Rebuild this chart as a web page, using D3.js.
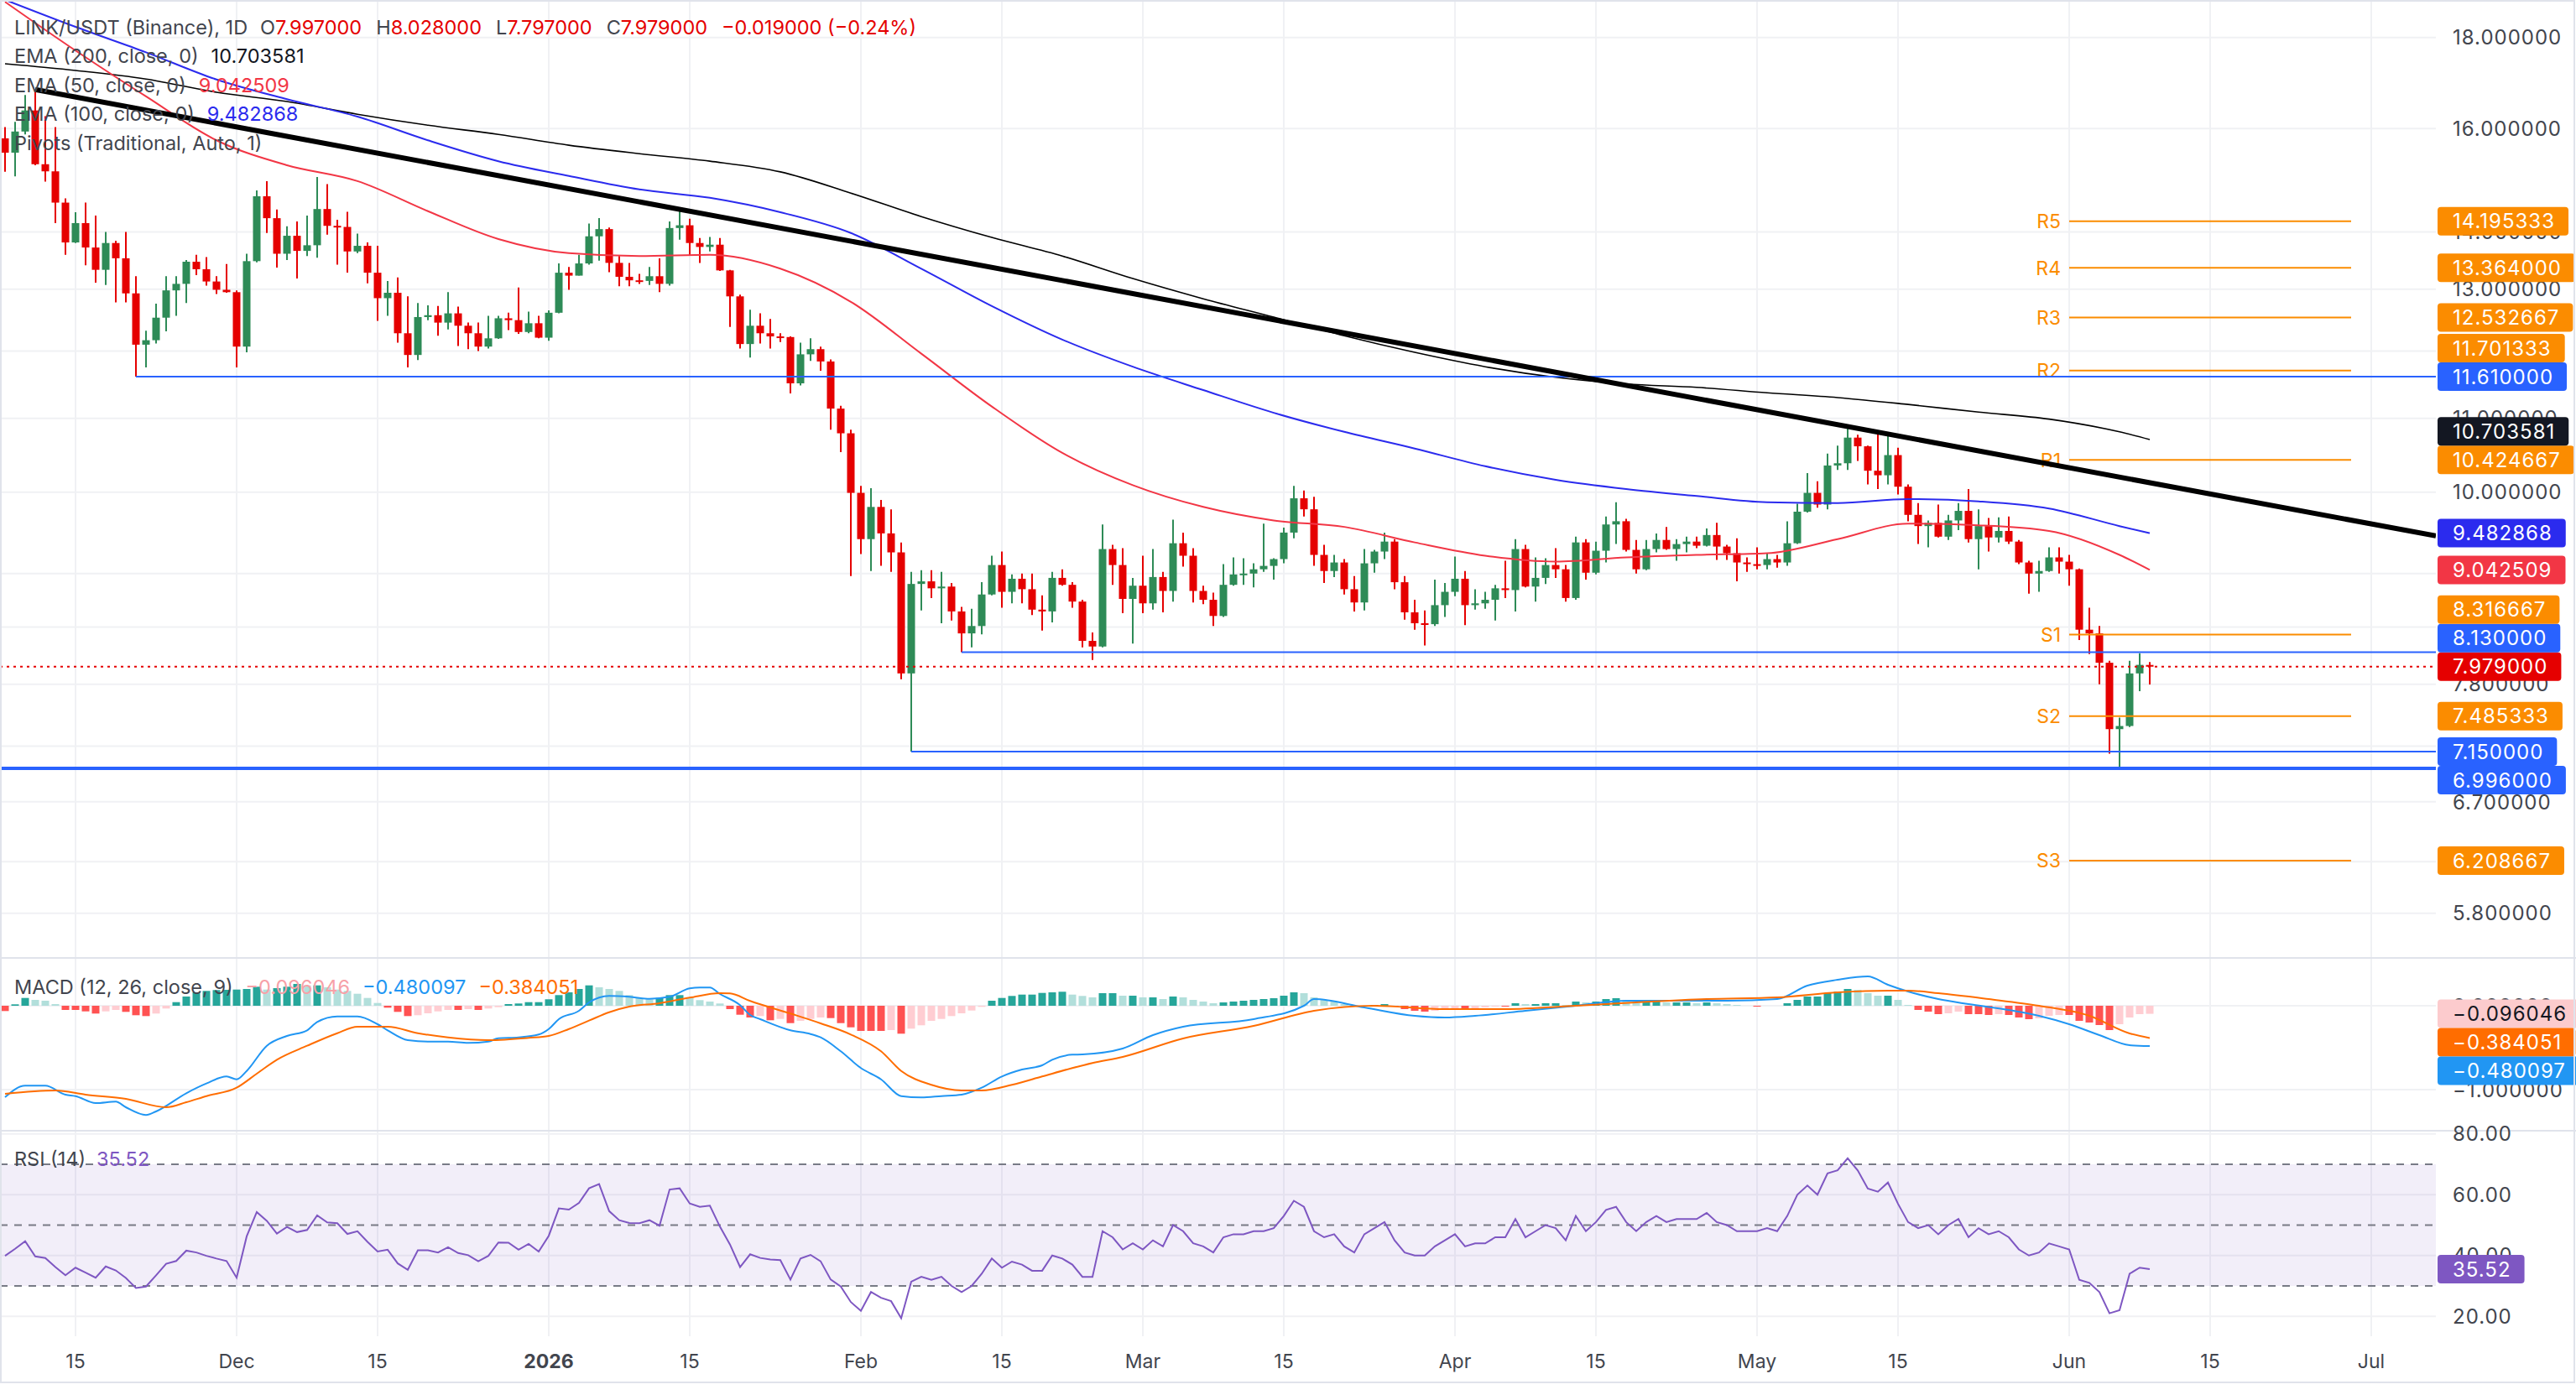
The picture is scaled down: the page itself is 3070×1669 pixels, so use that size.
<!DOCTYPE html>
<html>
<head>
<meta charset="utf-8">
<script src="https://cdn.jsdelivr.net/npm/d3@7"></script>
<style>
  body { margin: 0; background: #fff; }
  text { font-family: Inter, "Liberation Sans", sans-serif; }
</style>
</head>
<body>
<script>
// daily candles, LINK/USDT, from 2025-11-08
const opens = [
  15.80, 15.51, 15.94, 16.38, 15.28, 15.14, 14.54, 13.81, 14.16, 13.72,
  13.33, 13.80, 13.53, 12.93, 12.10, 12.17, 12.53, 12.98, 13.09, 13.47,
  13.34, 13.13, 12.99, 12.95, 12.07, 13.48, 14.66, 14.25, 13.61, 13.93,
  13.66, 13.76, 14.42, 14.11, 14.09, 13.65, 13.75, 13.28, 12.85, 12.94,
  12.28, 11.94, 12.54, 12.57, 12.45, 12.60, 12.40, 12.28, 12.07, 12.20,
  12.52, 12.49, 12.30, 12.44, 12.21, 12.61, 13.28, 13.23, 13.44, 13.92,
  14.05, 13.45, 13.21, 13.15, 13.14, 13.22, 13.09, 14.07, 14.12, 13.80,
  13.73, 13.77, 13.32, 12.88, 12.11, 12.40, 12.28, 12.23, 12.22, 11.51,
  11.95, 12.03, 11.84, 11.14, 10.79, 9.99, 9.41, 9.81, 9.48, 9.25,
  7.91, 8.88, 8.91, 8.83, 8.85, 8.57, 8.33, 8.41, 8.76, 9.10,
  8.79, 8.94, 8.82, 8.59, 8.57, 8.95, 8.87, 8.68, 8.25, 8.19,
  9.29, 9.10, 8.71, 8.86, 8.66, 8.96, 8.80, 9.36, 9.21, 8.80,
  8.70, 8.52, 8.87, 8.99, 9.00, 9.05, 9.09, 9.17, 9.49, 9.92,
  9.78, 9.22, 9.03, 9.13, 8.82, 8.67, 9.12, 9.26, 9.38, 8.90,
  8.56, 8.44, 8.43, 8.64, 8.79, 8.94, 8.64, 8.66, 8.70, 8.83,
  8.81, 9.29, 8.85, 8.95, 9.10, 9.05, 8.72, 9.37, 9.01, 9.27,
  9.59, 9.63, 9.28, 9.05, 9.29, 9.40, 9.29, 9.35, 9.38, 9.33,
  9.46, 9.32, 9.24, 9.13, 9.11, 9.10, 9.17, 9.13, 9.36, 9.75,
  9.99, 9.84, 10.35, 10.38, 10.73, 10.61, 10.28, 10.22, 10.49, 10.07,
  9.71, 9.57, 9.61, 9.44, 9.64, 9.76, 9.41, 9.57, 9.43, 9.51,
  9.38, 9.13, 9.00, 9.03, 9.19, 9.14, 9.05, 8.37, 8.33, 8.02,
  7.36, 7.39, 7.91, 7.997
]
const highs = [
  16.03, 16.14, 16.71, 16.83, 16.26, 16.03, 14.62, 14.36, 14.54, 14.30,
  14.00, 13.84, 14.00, 13.22, 12.32, 12.76, 13.22, 13.22, 13.50, 13.59,
  13.55, 13.22, 13.43, 12.98, 13.61, 14.77, 14.95, 14.41, 14.10, 14.19,
  14.30, 15.03, 14.89, 14.22, 14.37, 13.97, 13.81, 13.75, 13.14, 13.20,
  12.88, 12.77, 12.73, 12.72, 12.95, 12.71, 12.45, 12.45, 12.56, 12.56,
  12.61, 13.03, 12.63, 12.56, 12.65, 13.44, 13.38, 13.59, 14.15, 14.25,
  14.08, 13.57, 13.45, 13.26, 13.38, 13.53, 14.19, 14.41, 14.24, 13.89,
  13.91, 13.89, 13.33, 12.91, 12.66, 12.60, 12.51, 12.28, 12.23, 12.13,
  12.20, 12.07, 11.87, 11.18, 10.84, 10.08, 10.05, 9.90, 9.78, 9.37,
  9.02, 9.04, 9.04, 9.02, 8.89, 8.62, 8.60, 8.90, 9.21, 9.26,
  8.99, 9.00, 9.00, 8.75, 9.02, 9.05, 8.90, 8.70, 8.34, 9.59,
  9.34, 9.30, 8.95, 9.21, 9.29, 9.02, 9.65, 9.49, 9.30, 8.86,
  8.78, 9.11, 9.19, 9.18, 9.12, 9.60, 9.18, 9.55, 10.08, 10.02,
  9.94, 9.34, 9.22, 9.17, 8.97, 9.29, 9.28, 9.49, 9.41, 8.97,
  8.70, 8.58, 8.93, 8.89, 9.20, 9.03, 8.82, 8.79, 8.87, 9.15,
  9.41, 9.34, 9.19, 9.18, 9.30, 9.10, 9.44, 9.41, 9.38, 9.69,
  9.87, 9.66, 9.40, 9.40, 9.48, 9.56, 9.41, 9.44, 9.44, 9.54,
  9.61, 9.34, 9.42, 9.19, 9.31, 9.24, 9.22, 9.63, 9.85, 10.25,
  10.14, 10.51, 10.62, 10.88, 10.77, 10.62, 10.82, 10.77, 10.59, 10.10,
  9.86, 9.64, 9.84, 9.71, 9.86, 10.04, 9.78, 9.67, 9.68, 9.69,
  9.40, 9.15, 9.15, 9.31, 9.31, 9.22, 9.06, 8.61, 8.41, 8.04,
  7.47, 8.04, 8.12, 8.028
]
const lows = [
  15.13, 15.04, 15.88, 15.26, 14.94, 14.16, 13.59, 13.80, 13.41, 13.11,
  13.07, 12.78, 12.78, 11.61, 11.75, 12.12, 12.31, 12.56, 12.77, 13.24,
  13.06, 12.92, 12.94, 11.75, 11.98, 13.46, 13.98, 13.37, 13.50, 13.18,
  13.57, 13.54, 13.95, 13.42, 13.28, 13.62, 13.10, 12.48, 12.56, 12.13,
  11.75, 11.86, 12.49, 12.24, 12.34, 12.08, 12.03, 12.00, 12.04, 12.19,
  12.33, 12.27, 12.28, 12.20, 12.16, 12.60, 12.99, 13.23, 13.42, 13.49,
  13.29, 13.05, 13.05, 13.09, 13.07, 12.95, 13.06, 13.86, 13.59, 13.45,
  13.65, 13.31, 12.38, 12.04, 11.90, 12.12, 12.04, 12.14, 11.36, 11.48,
  11.85, 11.70, 10.84, 10.53, 8.97, 9.23, 9.03, 9.09, 9.02, 7.85,
  7.15, 8.58, 8.72, 8.44, 8.47, 8.13, 8.18, 8.32, 8.75, 8.61,
  8.66, 8.66, 8.53, 8.36, 8.45, 8.86, 8.61, 8.18, 8.05, 8.18,
  8.87, 8.55, 8.22, 8.55, 8.59, 8.56, 8.68, 9.08, 8.67, 8.65,
  8.41, 8.51, 8.86, 8.87, 8.84, 9.02, 8.93, 9.12, 9.42, 9.69,
  9.09, 8.89, 8.96, 8.76, 8.57, 8.58, 9.01, 9.17, 8.82, 8.48,
  8.37, 8.20, 8.41, 8.51, 8.74, 8.42, 8.59, 8.60, 8.47, 8.72,
  8.57, 8.84, 8.68, 8.88, 8.95, 8.68, 8.70, 8.93, 8.99, 9.13,
  9.35, 9.26, 9.00, 9.04, 9.25, 9.28, 9.15, 9.25, 9.30, 9.32,
  9.16, 9.16, 8.91, 9.02, 9.05, 9.05, 9.07, 9.09, 9.35, 9.74,
  9.80, 9.78, 10.29, 10.29, 10.41, 10.10, 10.04, 10.10, 9.97, 9.63,
  9.35, 9.31, 9.43, 9.40, 9.52, 9.37, 9.05, 9.26, 9.37, 9.35,
  9.11, 8.77, 8.79, 9.02, 9.00, 8.86, 8.26, 8.11, 7.80, 7.13,
  6.996, 7.38, 7.73, 7.797
]
const closes = [
  15.51, 15.94, 16.38, 15.28, 15.14, 14.54, 13.81, 14.16, 13.72, 13.33,
  13.80, 13.53, 12.93, 12.10, 12.17, 12.53, 12.98, 13.09, 13.47, 13.34,
  13.13, 12.99, 12.95, 12.07, 13.48, 14.66, 14.25, 13.61, 13.93, 13.66,
  13.76, 14.42, 14.11, 14.09, 13.65, 13.75, 13.28, 12.85, 12.94, 12.28,
  11.94, 12.54, 12.57, 12.45, 12.60, 12.40, 12.28, 12.07, 12.20, 12.52,
  12.49, 12.30, 12.44, 12.21, 12.61, 13.28, 13.23, 13.44, 13.92, 14.05,
  13.45, 13.21, 13.15, 13.14, 13.22, 13.09, 14.07, 14.12, 13.80, 13.73,
  13.77, 13.32, 12.88, 12.11, 12.40, 12.28, 12.23, 12.22, 11.51, 11.95,
  12.03, 11.84, 11.14, 10.79, 9.99, 9.41, 9.81, 9.48, 9.25, 7.91,
  8.88, 8.91, 8.83, 8.85, 8.57, 8.33, 8.41, 8.76, 9.10, 8.79,
  8.94, 8.82, 8.59, 8.57, 8.95, 8.87, 8.68, 8.25, 8.19, 9.29,
  9.10, 8.71, 8.86, 8.66, 8.96, 8.80, 9.36, 9.21, 8.80, 8.70,
  8.52, 8.87, 8.99, 9.00, 9.05, 9.09, 9.17, 9.49, 9.92, 9.78,
  9.22, 9.03, 9.13, 8.82, 8.67, 9.12, 9.26, 9.38, 8.90, 8.56,
  8.44, 8.43, 8.64, 8.79, 8.94, 8.64, 8.66, 8.70, 8.83, 8.81,
  9.29, 8.85, 8.95, 9.10, 9.05, 8.72, 9.37, 9.01, 9.27, 9.59,
  9.63, 9.28, 9.05, 9.29, 9.40, 9.29, 9.35, 9.38, 9.33, 9.46,
  9.32, 9.24, 9.13, 9.11, 9.10, 9.17, 9.13, 9.36, 9.75, 9.99,
  9.84, 10.35, 10.38, 10.73, 10.61, 10.28, 10.22, 10.49, 10.07, 9.71,
  9.57, 9.61, 9.44, 9.64, 9.76, 9.41, 9.57, 9.43, 9.51, 9.38,
  9.13, 9.00, 9.03, 9.19, 9.14, 9.05, 8.37, 8.33, 8.02, 7.36,
  7.39, 7.91, 7.998, 7.979
]

// moving averages, read every 7 sessions (index into the candles)
const emaIdx = [0, 7, 14, 21, 28, 35, 42, 49, 56, 63, 70, 77, 84, 91, 98, 105, 112, 119, 126, 133, 140, 147, 154, 161, 168, 175, 182, 189, 196, 203, 210, 213]
const ema200 = [17.40, 17.25, 17.06, 16.77, 16.57, 16.30, 16.07, 15.88, 15.66, 15.49, 15.34, 15.13, 14.72, 14.28, 13.90, 13.57, 13.18, 12.84, 12.54, 12.24, 11.98, 11.76, 11.60, 11.50, 11.45, 11.37, 11.30, 11.20, 11.09, 10.99, 10.81, 10.703581]
const ema100 = [18.90, 18.25, 17.66, 17.05, 16.62, 16.25, 15.76, 15.34, 15.05, 14.79, 14.63, 14.36, 13.98, 13.35, 12.72, 12.18, 11.76, 11.41, 11.08, 10.81, 10.58, 10.34, 10.16, 10.04, 9.95, 9.87, 9.86, 9.91, 9.88, 9.79, 9.57, 9.482868]
const ema50 = [18.85, 17.70, 16.68, 15.76, 15.26, 14.95, 14.38, 13.87, 13.62, 13.57, 13.59, 13.35, 12.79, 11.96, 11.17, 10.52, 10.09, 9.81, 9.64, 9.56, 9.37, 9.21, 9.14, 9.19, 9.22, 9.24, 9.41, 9.60, 9.58, 9.51, 9.22, 9.042509]

// MACD and signal, read at their turning points
const macdIdx = [0, 2, 4, 6, 7, 9, 11, 12, 14, 15, 18, 20, 22, 23, 24, 26, 28, 30, 31, 33, 35, 37, 38, 40, 42, 44, 46, 48, 49, 51, 53, 54, 55, 57, 58, 60, 62, 64, 66, 68, 69, 70, 71, 73, 74, 75, 78, 80, 81, 83, 85, 87, 89, 91, 93, 95, 97, 99, 101, 103, 104, 106, 107, 111, 114, 117, 124, 129, 130, 135, 140, 143, 146, 151, 156, 161, 166, 171, 176, 179, 182, 185, 187, 189, 192, 195, 199, 202, 205, 208, 211, 213]
const macdVals = [-1.09, -0.953, -0.953, -1.06, -1.077, -1.16, -1.143, -1.21, -1.303, -1.26, -1.043, -0.927, -0.843, -0.877, -0.777, -0.477, -0.36, -0.293, -0.193, -0.127, -0.127, -0.22, -0.293, -0.41, -0.427, -0.427, -0.443, -0.427, -0.387, -0.377, -0.343, -0.277, -0.16, -0.06, 0.04, 0.117, 0.107, 0.083, 0.107, 0.207, 0.217, 0.217, 0.14, 0.007, -0.11, -0.16, -0.293, -0.337, -0.377, -0.543, -0.743, -0.877, -1.077, -1.093, -1.077, -1.06, -0.977, -0.843, -0.76, -0.71, -0.643, -0.583, -0.58, -0.51, -0.35, -0.25, -0.16, 0, 0.08, -0.02, -0.12, -0.14, -0.12, -0.06, 0, 0.06, 0.06, 0.06, 0.08, 0.24, 0.31, 0.35, 0.25, 0.17, 0.08, 0.02, -0.05, -0.12, -0.22, -0.35, -0.47, -0.480097]
const signalIdx = [0, 5, 8, 12, 16, 18, 20, 23, 25, 27, 30, 33, 35, 38, 41, 44, 48, 52, 54, 56, 58, 60, 62, 65, 68, 71, 72, 74, 78, 81, 84, 87, 89, 92, 95, 97, 100, 103, 106, 108, 111, 117, 124, 130, 136, 143, 149, 156, 162, 169, 176, 182, 187, 189, 192, 197, 202, 207, 211, 213]
const signalVals = [-1.05, -1.01, -1.06, -1.11, -1.21, -1.15, -1.077, -0.977, -0.81, -0.643, -0.477, -0.327, -0.25, -0.25, -0.327, -0.377, -0.41, -0.383, -0.36, -0.277, -0.177, -0.077, -0.01, 0.03, 0.097, 0.15, 0.147, 0.057, -0.093, -0.21, -0.343, -0.543, -0.777, -0.943, -1.01, -1.01, -0.943, -0.843, -0.743, -0.683, -0.61, -0.39, -0.24, -0.06, 0, -0.04, -0.04, 0, 0.04, 0.08, 0.10, 0.16, 0.18, 0.18, 0.15, 0.08, 0.0, -0.12, -0.33, -0.384051]

// one value per session
const macdHist = [
  -0.063, 0.017, 0.093, 0.07, 0.06, 0.02, -0.05, -0.05, -0.067, -0.093,
  -0.067, -0.05, -0.073, -0.113, -0.123, -0.093, -0.033, 0.043, 0.11, 0.16,
  0.177, 0.187, 0.19, 0.193, 0.2, 0.227, 0.193, 0.21, 0.227, 0.26,
  0.243, 0.243, 0.22, 0.193, 0.177, 0.143, 0.093, 0.033, -0.023, -0.073,
  -0.123, -0.113, -0.09, -0.067, -0.05, -0.05, -0.04, -0.05, -0.033, -0.017,
  0.02, 0.027, 0.043, 0.043, 0.077, 0.127, 0.16, 0.2, 0.243, 0.22,
  0.2, 0.177, 0.127, 0.093, 0.077, 0.093, 0.127, 0.127, 0.093, 0.067,
  0.05, 0.027, -0.04, -0.107, -0.14, -0.123, -0.173, -0.157, -0.207, -0.18,
  -0.157, -0.14, -0.147, -0.207, -0.257, -0.3, -0.3, -0.3, -0.29, -0.333,
  -0.273, -0.233, -0.18, -0.157, -0.123, -0.09, -0.057, -0.013, 0.06, 0.093,
  0.117, 0.133, 0.133, 0.153, 0.16, 0.167, 0.133, 0.117, 0.10, 0.15,
  0.15, 0.12, 0.12, 0.10, 0.10, 0.08, 0.11, 0.10, 0.07, 0.05,
  0.03, 0.04, 0.05, 0.06, 0.07, 0.08, 0.09, 0.12, 0.16, 0.15,
  0.10, 0.07, 0.05, 0.02, -0.01, 0.00, 0.01, 0.02, -0.01, -0.04,
  -0.06, -0.07, -0.06, -0.05, -0.03, -0.04, -0.03, -0.02, -0.01, -0.01,
  0.03, 0.02, 0.02, 0.03, 0.03, 0.01, 0.05, 0.04, 0.05, 0.08,
  0.09, 0.07, 0.04, 0.04, 0.05, 0.04, 0.04, 0.04, 0.03, 0.04,
  0.03, 0.02, 0.01, 0.00, -0.01, 0.00, 0.00, 0.03, 0.07, 0.11,
  0.11, 0.15, 0.17, 0.20, 0.19, 0.15, 0.12, 0.12, 0.07, 0.01,
  -0.05, -0.07, -0.10, -0.09, -0.07, -0.10, -0.10, -0.11, -0.10, -0.11,
  -0.14, -0.16, -0.15, -0.12, -0.11, -0.11, -0.18, -0.20, -0.23, -0.29,
  -0.22, -0.14, -0.10, -0.096046
]
const rsi = [
  39.9, 42.2, 44.7, 39.7, 39.2, 36.2, 33.5, 36.0, 34.4, 32.7,
  36.4, 35.1, 32.6, 29.3, 29.8, 33.5, 37.3, 38.2, 41.6, 41.0,
  39.9, 39.0, 38.2, 32.7, 46.3, 54.3, 51.4, 47.2, 49.4, 47.7,
  48.4, 53.2, 50.9, 50.6, 47.1, 48.0, 44.5, 41.3, 41.9, 37.4,
  35.3, 41.7, 41.7, 41.0, 42.7, 40.8, 40.1, 38.1, 39.9, 44.3,
  44.2, 41.9, 43.8, 41.3, 46.5, 55.5, 55.1, 57.3, 62.1, 63.5,
  54.6, 51.6, 50.7, 50.6, 51.6, 49.8, 61.7, 62.1, 57.1, 56.0,
  56.4, 49.5, 43.6, 36.2, 40.4, 39.2, 38.7, 38.5, 32.1, 39.0,
  40.2, 38.1, 32.1, 29.8, 24.7, 21.8, 28.0, 26.1, 25.0, 19.4,
  31.4, 33, 32, 33, 30, 28, 30, 34, 39, 36,
  38, 37, 35, 35, 40, 39, 37, 33, 33, 48,
  46, 42, 44, 42, 45, 43, 50, 48, 44, 43,
  41, 46, 47, 47, 48, 48, 49, 53, 58, 56,
  48, 46, 47, 43, 41, 47, 49, 51, 45, 41,
  40, 40, 43, 45, 47, 43, 44, 44, 46, 46,
  52, 46, 48, 50, 49, 45, 53, 48, 51, 55,
  56, 51, 48, 51, 53, 51, 52, 52, 52, 54,
  51, 50, 48, 48, 48, 49, 48, 53, 60, 63,
  60, 67, 68, 72, 68, 62, 61, 64, 57, 51,
  49, 50, 47, 50, 52, 46, 49, 47, 48, 46,
  42, 40, 41, 44, 43, 42, 32, 31, 28, 21,
  22, 34, 36, 35.52
]

// drawings
const pivotNames = ['R5', 'R4', 'R3', 'R2', 'R1', 'S1', 'S2', 'S3']
const pivotValues = [14.195333, 13.364, 12.532667, 11.701333, 10.424667, 8.316667, 7.485333, 6.208667]
const pivotSpan = ['2026-06-01', '2026-06-29']
const levelPrices = [11.61, 8.13, 7.15, 6.996]
const levelStarts = ['2025-11-21', '2026-02-11', '2026-02-06', null]
const trendDates = ['2025-11-11', '2026-06-01']
const trendPrices = [16.83, 10.32]

// axes
const priceTicks = [5.8, 6.2, 6.7, 7.2, 7.8, 8.4, 9, 10, 11, 12, 13, 14, 16, 18]
const macdTicks = [0, -1]
const rsiTicks = [80, 60, 40, 20]
const tickDates = ['2025-11-15', '2025-12-01', '2025-12-15', '2026-01-01', '2026-01-15', '2026-02-01', '2026-02-15', '2026-03-01', '2026-03-15', '2026-04-01', '2026-04-15', '2026-05-01', '2026-05-15', '2026-06-01', '2026-06-15', '2026-07-01']
const tickLabels = ['15', 'Dec', '15', '2026', '15', 'Feb', '15', 'Mar', '15', 'Apr', '15', 'May', '15', 'Jun', '15', 'Jul']

const W = 3070, H = 1669, right = 2903
const mainBottom = 1141, macdTop = 1143, macdBottom = 1347, rsiTop = 1349, rsiBottom = 1593
const up = '#2e8b57', down = '#e50000'
const textCol = '#42454e'
const boxH = 34

const day = 864e5
const first = Date.UTC(2025, 10, 8)
const dates = closes.map((c, i) => new Date(first + i * day))
const utc = s => new Date(s + 'T00:00:00Z')
const last = closes.length - 1
const lastOf = a => a[a.length - 1]
const fmt = d3.format('.6f')
const fmt2 = d3.format('.2f')

const x = d3.scaleUtc().domain([dates[0], dates[last]]).range([6, 2562])
const y = d3.scaleLog().domain([5.487, 18.895]).range([1140, 0])
const ym = d3.scaleLinear().domain([-1, 0]).range([1299, 1199])
const yr = d3.scaleLinear().domain([30, 70]).range([1533, 1388])

const svg = d3.select('body').append('svg')
  .attr('width', W).attr('height', H)
  .style('display', 'block')
svg.append('rect').attr('width', W).attr('height', H).attr('fill', '#fff')

const defs = svg.append('defs')
const clip = (id, y0, y1) => defs.append('clipPath').attr('id', id)
  .append('rect').attr('x', 0).attr('y', y0).attr('width', right).attr('height', y1 - y0)
clip('cMain', 0, mainBottom)
clip('cMacd', macdTop, macdBottom)
clip('cRsi', rsiTop, rsiBottom)

// grid
const grid = svg.append('g').attr('stroke', '#f0f1f4').attr('stroke-width', 2)
grid.selectAll('.v').data(tickDates).join('line')
  .attr('x1', d => x(utc(d))).attr('x2', d => x(utc(d)))
  .attr('y1', 0).attr('y2', rsiBottom)
grid.selectAll('.h').data(priceTicks).join('line')
  .attr('x1', 0).attr('x2', right).attr('y1', d => y(d)).attr('y2', d => y(d))
grid.selectAll('.m').data(macdTicks).join('line')
  .attr('x1', 0).attr('x2', right).attr('y1', d => ym(d)).attr('y2', d => ym(d))
grid.selectAll('.r').data(rsiTicks).join('line')
  .attr('x1', 0).attr('x2', right).attr('y1', d => yr(d)).attr('y2', d => yr(d))

// main pane
const main = svg.append('g').attr('clip-path', 'url(#cMain)')

const candles = main.append('g')
candles.selectAll('line').data(closes).join('line')
  .attr('x1', (d, i) => x(dates[i])).attr('x2', (d, i) => x(dates[i]))
  .attr('y1', (d, i) => y(highs[i])).attr('y2', (d, i) => y(lows[i]))
  .attr('stroke', (d, i) => d >= opens[i] ? up : down)
  .attr('stroke-width', 2)
candles.selectAll('rect').data(closes).join('rect')
  .attr('x', (d, i) => x(dates[i]) - 4.5)
  .attr('width', 9)
  .attr('y', (d, i) => y(Math.max(d, opens[i])))
  .attr('height', (d, i) => Math.max(2, y(Math.min(d, opens[i])) - y(Math.max(d, opens[i]))))
  .attr('fill', (d, i) => d >= opens[i] ? up : down)

const path = (idx, vals, ys) => d3.line()
  .x((d, k) => x(dates[idx[k]]))
  .y(d => ys(d))
  .curve(d3.curveMonotoneX)(vals)
main.append('path').attr('d', path(emaIdx, ema200, y)).attr('fill', 'none').attr('stroke', '#000').attr('stroke-width', 1.6)
main.append('path').attr('d', path(emaIdx, ema100, y)).attr('fill', 'none').attr('stroke', '#2b2bee').attr('stroke-width', 2)
main.append('path').attr('d', path(emaIdx, ema50, y)).attr('fill', 'none').attr('stroke', '#f23645').attr('stroke-width', 2)

// pivots
const p0 = x(utc(pivotSpan[0])), p1 = x(utc(pivotSpan[1]))
main.append('g').selectAll('line').data(pivotValues).join('line')
  .attr('x1', p0).attr('x2', p1).attr('y1', d => y(d)).attr('y2', d => y(d))
  .attr('stroke', '#fb8c00').attr('stroke-width', 2)
main.append('g').selectAll('text').data(pivotNames).join('text')
  .attr('x', p0 - 10).attr('y', (d, i) => y(pivotValues[i])).attr('dy', '0.36em')
  .attr('text-anchor', 'end').attr('font-size', 23).attr('fill', '#fb8c00')
  .text(d => d)

// horizontal levels
main.append('g').selectAll('line').data(levelPrices).join('line')
  .attr('x1', (d, i) => levelStarts[i] ? x(utc(levelStarts[i])) : 0)
  .attr('x2', right)
  .attr('y1', d => y(d)).attr('y2', d => y(d))
  .attr('stroke', '#2962ff')
  .attr('stroke-width', (d, i) => levelStarts[i] ? 2 : 4)

// last price
main.append('line')
  .attr('x1', 0).attr('x2', right).attr('y1', y(closes[last])).attr('y2', y(closes[last]))
  .attr('stroke', down).attr('stroke-width', 2).attr('stroke-dasharray', '3 5')

// trend line, extended to the right edge
const t0 = [x(utc(trendDates[0])), y(trendPrices[0])]
const t1 = [x(utc(trendDates[1])), y(trendPrices[1])]
const slope = (t1[1] - t0[1]) / (t1[0] - t0[0])
main.append('line')
  .attr('x1', t0[0]).attr('y1', t0[1])
  .attr('x2', right).attr('y2', t0[1] + slope * (right - t0[0]))
  .attr('stroke', '#000').attr('stroke-width', 6)

// legend
const leg = svg.append('g').attr('font-size', 23.5).attr('fill', textCol)
const row1 = leg.append('text').attr('x', 17).attr('y', 41)
row1.append('tspan').text('LINK/USDT (Binance), 1D')
const ohlc = [['O', opens[last]], ['H', highs[last]], ['L', lows[last]], ['C', closes[last]]]
ohlc.forEach(([k, v], i) => {
  row1.append('tspan').attr('dx', i ? 17 : 15).text(k)
  row1.append('tspan').attr('fill', down).text(fmt(v))
})
const chg = closes[last] - closes[last - 1]
row1.append('tspan').attr('dx', 17).attr('fill', down)
  .text(fmt(chg) + ' (' + fmt2(chg / closes[last - 1] * 100) + '%)')

const legendRows = [
  ['EMA (200, close, 0)', lastOf(ema200), '#131722'],
  ['EMA (50, close, 0)', lastOf(ema50), '#f23645'],
  ['EMA (100, close, 0)', lastOf(ema100), '#2b2bee'],
  ['Pivots (Traditional, Auto, 1)', null, null]
]
legendRows.forEach(([name, v, c], i) => {
  const t = leg.append('text').attr('x', 17).attr('y', 75 + i * 34.5)
  t.append('tspan').text(name)
  if (v !== null) t.append('tspan').attr('dx', 15).attr('fill', c).text(fmt(v))
})

// separators
svg.append('g').attr('fill', '#e0e3eb').selectAll('rect').data([mainBottom, macdBottom]).join('rect')
  .attr('x', 0).attr('width', W).attr('y', d => d).attr('height', 2)

// MACD pane
const macdG = svg.append('g').attr('clip-path', 'url(#cMacd)')
const histColor = (v, i) => {
  const prev = i ? macdHist[i - 1] : v
  if (v >= 0) return v >= prev ? '#26a69a' : '#b2dfdb'
  return v <= prev ? '#ff5252' : '#ffcdd2'
}
macdG.selectAll('rect').data(macdHist).join('rect')
  .attr('x', (d, i) => x(dates[i]) - 4.5).attr('width', 9)
  .attr('y', d => Math.min(ym(d), ym(0)))
  .attr('height', d => Math.abs(ym(d) - ym(0)))
  .attr('fill', histColor)
macdG.append('path').attr('d', path(macdIdx, macdVals, ym)).attr('fill', 'none').attr('stroke', '#2196f3').attr('stroke-width', 2)
macdG.append('path').attr('d', path(signalIdx, signalVals, ym)).attr('fill', 'none').attr('stroke', '#ff6d00').attr('stroke-width', 2)

const macdLeg = svg.append('text').attr('x', 17).attr('y', 1185).attr('font-size', 23.5).attr('fill', textCol)
macdLeg.append('tspan').text('MACD (12, 26, close, 9)')
macdLeg.append('tspan').attr('dx', 15).attr('fill', '#f7a1a8').text(fmt(macdHist[last]))
macdLeg.append('tspan').attr('dx', 15).attr('fill', '#2196f3').text(fmt(lastOf(macdVals)))
macdLeg.append('tspan').attr('dx', 15).attr('fill', '#ff6d00').text(fmt(lastOf(signalVals)))

// RSI pane
const rsiG = svg.append('g').attr('clip-path', 'url(#cRsi)')
rsiG.append('rect').attr('x', 0).attr('width', right)
  .attr('y', yr(70)).attr('height', yr(30) - yr(70))
  .attr('fill', '#7e57c2').attr('fill-opacity', 0.1)
rsiG.selectAll('line').data([70, 50, 30]).join('line')
  .attr('x1', 0).attr('x2', right).attr('y1', d => yr(d)).attr('y2', d => yr(d))
  .attr('stroke', '#787b86').attr('stroke-width', 2).attr('stroke-dasharray', '9 8')
rsiG.append('path')
  .attr('d', d3.line().x((d, i) => x(dates[i])).y(d => yr(d))(rsi))
  .attr('fill', 'none').attr('stroke', '#7e57c2').attr('stroke-width', 2)
const rsiLeg = svg.append('text').attr('x', 17).attr('y', 1390).attr('font-size', 23.5).attr('fill', textCol)
rsiLeg.append('tspan').text('RSI (14)')
rsiLeg.append('tspan').attr('dx', 13).attr('fill', '#7e57c2').text(fmt2(rsi[last]))

// time axis
svg.append('g').attr('font-size', 23).attr('fill', textCol).attr('text-anchor', 'middle')
  .selectAll('text').data(tickLabels).join('text')
  .attr('x', (d, i) => x(utc(tickDates[i]))).attr('y', 1631)
  .attr('font-weight', d => d === '2026' ? 700 : 400)
  .text(d => d)

// value boxes on the axis, placed in priority order without overlap
function place(items) {
  const placed = []
  items.forEach(it => {
    const free = v => placed.every(p => Math.abs(p.y - v) >= boxH)
    let v = it.y0
    if (!free(v)) {
      v = placed.flatMap(p => [p.y - boxH, p.y + boxH]).filter(free)
        .sort((a, b) => Math.abs(a - it.y0) - Math.abs(b - it.y0))[0]
    }
    it.y = v
    placed.push(it)
  })
  return items
}

const priceBoxes = [{ y0: y(closes[last]), text: fmt(closes[last]), fill: down, color: '#fff' }]
levelPrices.forEach(p => priceBoxes.push({ y0: y(p), text: fmt(p), fill: '#2962ff', color: '#fff' }))
pivotValues.forEach(p => priceBoxes.push({ y0: y(p), text: fmt(p), fill: '#fb8c00', color: '#fff' }))
priceBoxes.push({ y0: y(lastOf(ema200)), text: fmt(lastOf(ema200)), fill: '#131722', color: '#fff' })
priceBoxes.push({ y0: y(lastOf(ema100)), text: fmt(lastOf(ema100)), fill: '#2b2bee', color: '#fff' })
priceBoxes.push({ y0: y(lastOf(ema50)), text: fmt(lastOf(ema50)), fill: '#f23645', color: '#fff' })
const macdBoxes = [
  { y0: ym(macdHist[last]), text: fmt(macdHist[last]), fill: '#fccbcd', color: '#131722' },
  { y0: ym(lastOf(signalVals)), text: fmt(lastOf(signalVals)), fill: '#ff6d00', color: '#fff' },
  { y0: ym(lastOf(macdVals)), text: fmt(lastOf(macdVals)), fill: '#2196f3', color: '#fff' }
]
const rsiBoxes = [{ y0: yr(rsi[last]), text: fmt2(rsi[last]), fill: '#7e57c2', color: '#fff' }]
const allBoxes = [...place(priceBoxes), ...place(macdBoxes), ...place(rsiBoxes)]

// axis tick labels; the ones fully under a value box are not visible in the original
const covered = v => [v - 10, v, v + 10].every(q => allBoxes.some(b => Math.abs(b.y - q) <= boxH / 2))
const tickItems = [
  ...priceTicks.map(d => ({ y: y(d), text: fmt(d) })),
  ...macdTicks.map(d => ({ y: ym(d), text: fmt(d) })),
  ...rsiTicks.map(d => ({ y: yr(d), text: fmt2(d) }))
].filter(t => !covered(t.y))
svg.append('g').attr('font-size', 24).attr('fill', textCol).attr('letter-spacing', 1)
  .selectAll('text').data(tickItems).join('text')
  .attr('x', 2923).attr('y', d => d.y).attr('dy', '0.36em').text(d => d.text)

allBoxes.forEach(it => {
  const g = svg.append('g').attr('font-size', 24).attr('letter-spacing', 1)
  const r = g.append('rect')
  const t = g.append('text').attr('x', 2923).attr('y', it.y).attr('dy', '0.36em')
    .attr('fill', it.color).text(it.text)
  const w = t.node().getComputedTextLength()
  r.attr('x', 2905).attr('y', it.y - boxH / 2).attr('width', w + 34).attr('height', boxH)
    .attr('rx', 4).attr('fill', it.fill)
})

// frame
svg.append('rect').attr('x', 1).attr('y', 1).attr('width', W - 3).attr('height', 1647)
  .attr('fill', 'none').attr('stroke', '#e0e3eb').attr('stroke-width', 2)
</script>
</body>
</html>
